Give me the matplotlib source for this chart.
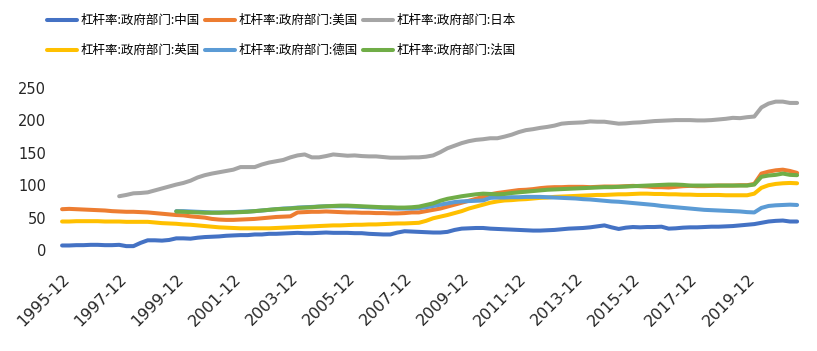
import numpy as np
import pandas as pd
import matplotlib
matplotlib.use('Agg')
import matplotlib.pyplot as plt

# 季度数据 1995-12 ~ 2021-09
quarters = pd.date_range('1995-12-31', '2021-09-30', freq='QE').strftime('%Y-%m').tolist()
tick_labels = ['1995-12', '1997-12', '1999-12', '2001-12', '2003-12', '2005-12', '2007-12',
               '2009-12', '2011-12', '2013-12', '2015-12', '2017-12', '2019-12']

# 中国 (from 1995-12)
china = [7, 7, 7.5, 7.5, 8, 8, 7.5, 7.5, 8, 6, 6, 11, 15, 15, 14.5, 15.5,
         18, 18, 17.5, 19, 20, 20.5, 21, 22, 22.5, 23, 23, 24, 24, 25, 25, 25.5,
         26, 26.5, 26, 26, 26.5, 27, 26.5, 26.5, 26.5, 26, 26, 25, 24.5, 24, 24, 27,
         29, 28.5, 28, 27.5, 27, 27, 28, 31, 33, 33.5, 34, 34, 33, 32.5, 32, 31.5,
         31, 30.5, 30, 30, 30.5, 31, 32, 33, 33.5, 34, 35, 36.5, 38, 35, 32.5, 34.5,
         35.5, 35, 35.5, 35.5, 36, 33, 33.5, 34.5, 35, 35, 35.5, 36, 36, 36.5, 37, 38,
         39, 40, 42, 44, 45, 45.5, 44, 44]
# 美国 (from 1995-12)
usa = [63, 63.5, 63, 62.5, 62, 61.5, 61, 60, 59.5, 59, 59, 58.5, 58, 57, 56, 55,
       54, 53.5, 52, 51, 50, 48, 47, 46.5, 46.5, 47, 47.5, 48, 49, 50, 51, 51.5,
       52, 58, 58.5, 59, 59, 59.5, 59, 58.5, 58, 58, 57.5, 57.5, 57, 57, 56.5, 56.5,
       57, 58, 58, 60, 62, 64, 67, 70, 73, 76, 79, 82, 86, 88, 89.5, 91,
       92.5, 93, 94, 95.5, 96.5, 97, 97, 97.5, 97.5, 97.5, 97, 97.5, 98, 98, 98, 98.5,
       99, 98.5, 98, 97, 97, 96.5, 97.5, 98.5, 99, 98.5, 98.5, 99, 99.5, 99.5, 99.5, 100,
       100, 102, 118, 121, 123, 124, 122, 119]
# 日本 (from 1997-12)
japan = [83, 85, 87.5, 88, 89, 92, 95, 98, 101, 103.5, 107, 112, 115.5, 118, 120, 122,
         124, 128, 128, 128, 132, 135, 137, 139, 143, 146, 147.5, 143, 143, 145, 147.5, 146.5,
         145.5, 146, 145, 144.5, 144.5, 143.5, 142.5, 142.5, 142.5, 143, 143, 144, 146, 151, 157, 161,
         165, 168, 170, 171, 172.5, 172.5, 175, 178, 182, 185, 186.5, 188.5, 190, 192, 195, 196,
         196.5, 197, 198.5, 198, 198, 196.5, 195, 195.5, 196.5, 197, 198, 199, 199.5, 200, 200.5, 200.5,
         200.5, 200, 200, 200.5, 201.5, 202.5, 204, 203.5, 205, 206, 220, 226, 229, 229, 227, 227]
# 英国 (from 1995-12)
uk = [44, 44, 44.5, 44.5, 44.5, 44.5, 44, 44, 44, 43.5, 43.5, 43.5, 43.5, 42.5, 41.5, 41,
      40.5, 39.5, 39, 38, 37, 36, 35, 34.5, 34, 33.5, 33.5, 33.5, 33.5, 33.5, 34, 34.5,
      35, 35.5, 36, 36.5, 37, 37.5, 38, 38, 38.5, 39, 39, 39.5, 39.5, 40, 40.5, 41,
      41, 41.5, 42, 45, 49, 51.5, 54, 57, 60, 64, 67, 70, 73, 75, 76.5, 77,
      78, 78.5, 79.5, 80.5, 81, 82, 82.5, 83, 83.5, 84, 84.5, 85, 85, 85.5, 86, 86,
      86.5, 87, 87, 86.5, 86.5, 86, 86, 85.5, 85.5, 85, 85, 85, 85, 84.5, 84.5, 84.5,
      84.5, 87, 96, 100, 102, 103, 103.5, 103]
# 德国 (from 1999-12)
germany = [60, 60, 59.5, 59, 58.5, 58, 58, 58, 58.5, 59, 59.5, 60, 61, 62, 63, 64,
           64.5, 65.5, 66, 66.5, 67, 67.5, 67.5, 67.5, 67.5, 67, 66.5, 66, 65.5, 65, 64.5, 64,
           64, 64, 64.5, 66, 68, 70, 72, 74, 75, 75.5, 76, 76.5, 80.5, 81, 81, 81.5,
           81.5, 82, 82, 82, 81.5, 81, 80.5, 80, 79.5, 78.5, 78, 77, 76, 75, 74.5, 73.5,
           72.5, 71.5, 70.5, 69.5, 68, 67, 66, 65, 64, 63, 62, 61.5, 61, 60.5, 60, 59.5,
           58.5, 58, 65, 68, 69, 69.5, 70, 69.5]
# 法国 (from 1999-12)
france = [59.5, 59, 58.5, 58, 57.5, 57.5, 57.5, 58, 58, 58.5, 59, 60, 61, 62, 63, 63.5,
          64, 65, 65.5, 66, 67, 67.5, 68, 68.5, 68.5, 68, 67.5, 67, 66.5, 66, 66, 65.5,
          65.5, 66, 67, 69.5, 72, 76, 79, 81, 83, 84.5, 86, 87, 86.5, 86, 86.5, 88,
          89, 90, 91, 92, 93, 93.5, 94, 94.5, 95, 95.5, 96, 96.5, 97, 97, 97.5, 98,
          98.5, 99, 99.5, 100, 100.5, 101, 101, 100.5, 99.5, 99.5, 99.5, 99.5, 99.5, 99.5, 99.5, 99.5,
          99.5, 101, 113, 115, 116, 118, 116, 115.5]

names = ['杠杆率:政府部门:中国', '杠杆率:政府部门:美国', '杠杆率:政府部门:日本',
         '杠杆率:政府部门:英国', '杠杆率:政府部门:德国', '杠杆率:政府部门:法国']
colors = ['#4472C4', '#ED7D31', '#A5A5A5', '#FFC000', '#5B9BD5', '#70AD47']

n = len(quarters)
x = np.arange(n)

def pad(vals):
    # 前面没有数据的季度补 nan
    return np.r_[np.full(n - len(vals), np.nan), vals]

series = [pad(china), pad(usa), pad(japan), pad(uk), pad(germany), pad(france)]

plt.rcParams['font.family'] = ['Noto Sans CJK SC', 'DejaVu Sans']

fig = plt.figure(figsize=(8.17, 3.51), dpi=100)
ax = fig.add_axes([0.0716, 0.2877, 0.9084, 0.4615])

lines = []
for s, c, name in zip(series, colors, names):
    l, = ax.plot(x, s, color=c, lw=2.9, label=name, solid_capstyle='round', solid_joinstyle='round')
    lines.append(l)

ax.set_xlim(-0.5, n - 0.5)
ax.set_ylim(0, 250)
ax.set_yticks([0, 50, 100, 150, 200, 250])
ax.set_xticks([quarters.index(t) for t in tick_labels])
ax.set_xticklabels(tick_labels, rotation=45, ha='right', va='top', rotation_mode='anchor',
                   fontsize=11.5, family='DejaVu Sans', color='#262626')
for t in ax.get_yticklabels():
    t.set_fontsize(10.5)
    t.set_family('DejaVu Sans')
    t.set_color('#262626')
ax.tick_params(axis='x', length=0, pad=15)
ax.tick_params(axis='y', length=0, pad=9)
for sp in ax.spines.values():
    sp.set_visible(False)

# 图例两行三列, 按行排列
order = [0, 3, 1, 4, 2, 5]
fig.legend([lines[i] for i in order], [names[i] for i in order], ncol=3,
           loc='upper left', bbox_to_anchor=(0.047, 0.985), frameon=False,
           fontsize=9, handlelength=2.4, handletextpad=0.3, columnspacing=0.4,
           labelspacing=1.35, borderaxespad=0.3)

plt.savefig('out.png', dpi=100)
